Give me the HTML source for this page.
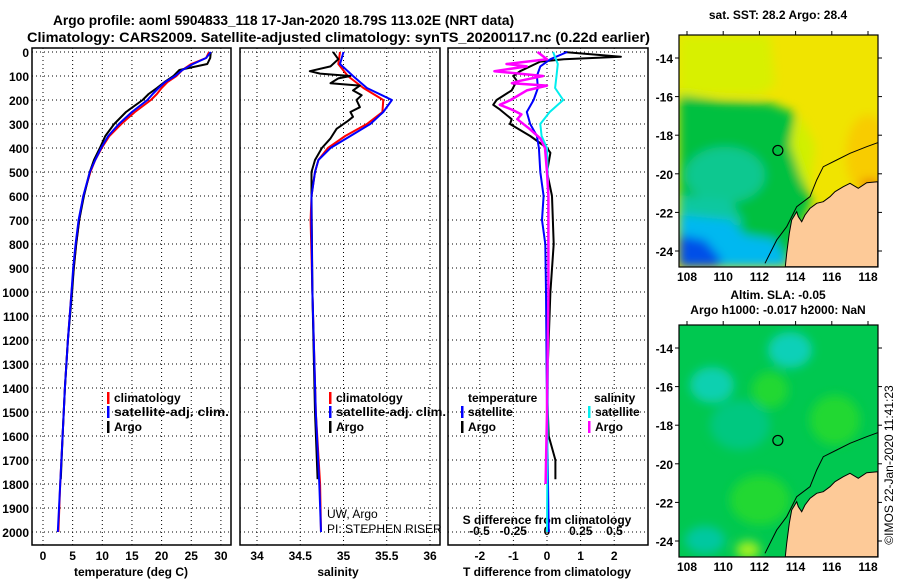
<!DOCTYPE html>
<html><head><meta charset="utf-8"><style>
html,body{margin:0;padding:0;background:#fff;}
svg{display:block;font-family:"Liberation Sans",sans-serif;}
</style></head><body>
<svg id="chart" width="900" height="580" viewBox="0 0 900 580" xmlns="http://www.w3.org/2000/svg">
<defs>
<filter id="blur" x="-10%" y="-10%" width="120%" height="120%"><feGaussianBlur stdDeviation="5"/></filter>
<clipPath id="m1c"><rect x="679" y="35" width="199" height="232"/></clipPath>
<clipPath id="m2c"><rect x="679" y="325" width="199" height="232"/></clipPath>
</defs>
<text x="53" y="25" font-size="14" font-weight="bold" textLength="461" lengthAdjust="spacingAndGlyphs">Argo profile: aoml 5904833_118 17-Jan-2020 18.79S 113.02E (NRT data)</text>
<text x="27" y="42" font-size="14" font-weight="bold" textLength="623" lengthAdjust="spacingAndGlyphs">Climatology: CARS2009. Satellite-adjusted climatology: synTS_20200117.nc (0.22d earlier)</text>
<g id="panels"></g>
<g id="maps"></g>
<text transform="translate(893,465) rotate(-90)" text-anchor="middle" font-size="12">©IMOS 22-Jan-2020 11:41:23</text>
</svg>
<script>
// ---- data ----
const depthClim=[0,25,50,75,100,125,150,175,200,250,300,350,400,450,500,600,700,800,900,1000,1200,1400,1600,1800,2000];
const tempClim=[28,27.5,25,23.5,22.5,21,20,19.2,18.2,15.5,13.2,11.2,9.9,8.8,8,6.8,6.1,5.6,5.2,4.8,4.2,3.7,3.3,2.9,2.6];
const tempSat=[28.3,27.5,25.3,23.5,22.3,20.6,19.5,18.5,17.6,15,12.8,11,9.8,8.8,7.9,6.8,6,5.5,5.1,4.8,4.2,3.7,3.3,2.9,2.5];
const depthArgo=[0,25,50,75,100,125,150,175,200,250,300,350,400,450,500,600,700,800,900,1000,1200,1400,1600,1780];
const tempArgo=[28.3,28.2,27.7,23,22,20.5,19.2,17.8,16.8,14,12,10.5,9.6,8.6,7.9,6.9,6.1,5.6,5.2,4.9,4.2,3.7,3.3,3.0];
const depthS=[0,50,100,150,200,250,300,350,400,450,500,600,700,1000,1500,1800,2000];
const salClim=[34.96,34.94,35.05,35.23,35.46,35.45,35.27,35.02,34.82,34.71,34.67,34.63,34.62,34.64,34.68,34.73,34.74];
const salSat=[35.0,34.96,35.11,35.27,35.56,35.46,35.31,35.08,34.85,34.71,34.67,34.63,34.63,34.64,34.68,34.72,34.74];
const depthSA=[0,30,60,80,90,100,110,130,140,160,180,200,230,250,270,290,320,360,400,450,500,600,1000,1500,1780];
const salArgo=[34.88,34.94,34.85,34.61,34.73,35.08,34.94,34.85,35.19,35.11,35.21,35.15,35.19,35.08,35.11,35.04,34.92,34.85,34.75,34.67,34.63,34.63,34.64,34.67,34.70];
const depthDT=[0,30,60,100,150,200,250,300,350,400,500,600,700,800,1000,1500,2000];
const dTSat=[0.6,0.1,-0.2,-0.3,-0.27,-0.4,-0.6,-0.5,-0.3,-0.24,-0.2,-0.1,-0.15,-0.05,-0.03,0,0.05];
const depthDTA=[0,20,30,40,80,100,120,160,200,220,240,280,300,350,400,420,500,600,800,1000,1400,1600,1700,1780];
const dTArgo=[0.5,2.2,0.5,-0.2,-0.8,-1.0,-0.9,-1.05,-1.5,-1.6,-1.4,-1.05,-1.1,-0.5,0,0.1,0,0.15,0.2,0.1,0,0.05,0.25,0.25];
const depthDS=[0,50,100,150,200,250,300,350,400,500,600,1000,2000];
const dSSat=[0.045,0.08,0.07,0.06,0.12,0.02,-0.05,-0.04,0,0.005,0.01,0.01,0];
const depthDSA=[0,30,50,60,80,100,120,130,140,160,200,220,240,260,280,320,360,400,500,600,1000,1500,1800];
const dSArgo=[-0.07,0,-0.3,-0.15,-0.39,-0.03,-0.2,-0.26,0,-0.15,-0.27,-0.35,-0.26,-0.19,-0.22,-0.13,-0.05,-0.015,0,0.01,0.01,0,-0.01];
const depthTicks=[0,100,200,300,400,500,600,700,800,900,1000,1100,1200,1300,1400,1500,1600,1700,1800,1900,2000];
const tempTicks=[0,5,10,15,20,25,30];
const salTicks=[34,34.5,35,35.5,36];
const dTTicks=[-2,-1,0,1,2];
const dSTicks=[-0.5,-0.25,0,0.25,0.5];
const lonTicks=[108,110,112,114,116,118];
const latTicks=[-14,-16,-18,-20,-22,-24];
const argoLon=113.02, argoLat=-18.79;

// ---- scales ----
const yD=d=>52+d*0.24;
const xT=v=>43+v*5.93;
const xS=v=>257+(v-34)*86.5;
const xDT=v=>547+v*33.6;
const xDS=v=>547+v*135;
const P=[{x0:32,x1:231},{x0:240,x1:440},{x0:448,x1:648}];
const TOP=48,BOT=545;
const NS='http://www.w3.org/2000/svg';
const panels=document.getElementById('panels');
const maps=document.getElementById('maps');
function mk(tag,attrs,parent){const e=document.createElementNS(NS,tag);for(const k in attrs)e.setAttribute(k,attrs[k]);(parent||panels).appendChild(e);return e;}
function txt(s,x,y,parent,extra){const e=mk('text',Object.assign({x:x,y:y,'font-size':12,'font-weight':'bold'},extra||{}),parent);e.textContent=s;return e;}

P.forEach((p,i)=>{
  const g=mk('g',{});
  
  
  depthTicks.forEach(d=>{const l=mk('line',{x1:p.x0,x2:p.x1,y1:yD(d),y2:yD(d),stroke:'#000','stroke-width':1,'stroke-dasharray':'1,3'},g);
    });
  const xs=i==0?tempTicks.map(xT):i==1?salTicks.map(xS):dTTicks.map(xDT);
  xs.forEach(x=>{const l=mk('line',{x1:x,x2:x,y1:TOP,y2:BOT,stroke:'#000','stroke-width':1,'stroke-dasharray':'1,3'},g);
    });
  const r=mk('rect',{x:p.x0,y:TOP,width:p.x1-p.x0,height:BOT-TOP,fill:'none',stroke:'#000','stroke-width':1.5},g);
  
});
depthTicks.forEach(d=>{const t=txt(String(d),29,yD(d)+5,panels,{'text-anchor':'end'});
  });
tempTicks.forEach(v=>{const t=txt(String(v),xT(v),560,panels,{'text-anchor':'middle'});
  });
salTicks.forEach(v=>{const t=txt(String(v),xS(v),560,panels,{'text-anchor':'middle'});
  });
dTTicks.forEach(v=>{const t=txt(String(v),xDT(v),560,panels,{'text-anchor':'middle'});
  });
dSTicks.forEach(v=>{const t=txt(String(v),xDS(v),535,panels,{'text-anchor':'middle'});
  });
let t;
t=txt('temperature (deg C)',131,576,panels,{'text-anchor':'middle'});

t=txt('salinity',338,576,panels,{'text-anchor':'middle'});

t=txt('T difference from climatology',547,576,panels,{'text-anchor':'middle'});

t=txt('S difference from climatology',547,524,panels,{'text-anchor':'middle'});


function line(xs,ds,fx,color,name,w){
  const pts=xs.map((v,i)=>fx(v).toFixed(1)+','+yD(ds[i]).toFixed(1)).join(' ');
  const e=mk('polyline',{points:pts,fill:'none',stroke:color,'stroke-width':w||2,'stroke-linejoin':'round'});
  
}
line(tempClim,depthClim,xT,'#ff0000','temp-climatology-line');
line(tempArgo,depthArgo,xT,'#000000','temp-argo-line');
line(tempSat,depthClim,xT,'#0000ff','temp-satellite-line');
line(salClim,depthS,xS,'#ff0000','salinity-climatology-line');
line(salArgo,depthSA,xS,'#000000','salinity-argo-line');
line(salSat,depthS,xS,'#0000ff','salinity-satellite-line');
line(dTArgo,depthDTA,xDT,'#000000','t-diff-argo-line');
line(dTSat,depthDT,xDT,'#0000ff','t-diff-satellite-line');
line(dSSat,depthDS,xDS,'#00eeee','s-diff-satellite-line');
line(dSArgo,depthDSA,xDS,'#ff00ff','s-diff-argo-line',2.5);

function leg(x,y,color,label,name,len){
  const g=mk('g',{});
  mk('rect',{x:x,y:y-10,width:2.5,height:12,fill:color},g);
  const tt=txt(label,x+7,y,g);
  if(len){tt.setAttribute('textLength',len);tt.setAttribute('lengthAdjust','spacingAndGlyphs');}
}
leg(107,402,'#ff0000','climatology','legend-temp-climatology');
leg(107,416,'#0000ff','satellite-adj. clim.','legend-temp-satellite',115);
leg(107,431,'#000000','Argo','legend-temp-argo');
leg(329,402,'#ff0000','climatology','legend-sal-climatology');
leg(329,416,'#0000ff','satellite-adj. clim.','legend-sal-satellite',110);
leg(329,431,'#000000','Argo','legend-sal-argo');
t=txt('temperature',468,402);
t=txt('salinity',594,402);
leg(461,416,'#0000ff','satellite','legend-dt-satellite');
leg(461,431,'#000000','Argo','legend-dt-argo');
leg(588,416,'#00eeee','satellite','legend-ds-satellite');
leg(588,431,'#ff00ff','Argo','legend-ds-argo');
t=txt('UW, Argo',327,518,panels,{'font-weight':'normal'});
t=txt('PI: STEPHEN RISER',327,533,panels,{'font-weight':'normal'});

// ---- maps ----
const mlon=v=>687+(v-108)*18.1;
function mlat(v,top){return top+23+(-14-v)*19.3;}
const coast=[[683,545],[650,548],[625,565],[600,550],[580,560],[555,575],[540,590],[520,605],[500,610],[480,625],[465,645],[455,665],[445,650],[440,635],[425,660],[418,700],[410,760],[406,800],[683,800]];
const shelf=[[345,790],[380,720],[410,680],[440,620],[480,590],[500,540],[520,500],[560,480],[600,460],[650,440],[683,428]];
function drawMap(top,name,titleLines,fields,base,blurId){
  const g=mk('g',{},maps);
  const cg=mk('g',{'clip-path':'url(#'+(top<100?'m1c':'m2c')+')'},g);
  mk('rect',{x:679,y:top,width:199,height:232,fill:base},cg);
  const bg=mk('g',{filter:'url(#blur)'},cg);
  fields.forEach(f=>{
    if(f.e) mk('ellipse',{cx:f.e[0],cy:top+f.e[1],rx:f.e[2],ry:f.e[3],fill:f.c},bg);
    else mk('polygon',{points:f.p.map(q=>q[0]+','+(top+q[1])).join(' '),fill:f.c},bg);
  });
  const dy=top-35;
  const land=mk('polygon',{points:coast.map(q=>(650+q[0]/3).toFixed(1)+','+(q[1]/3+dy).toFixed(1)).join(' '),fill:'#fdca98',stroke:'#000','stroke-width':1},cg);
  
  const sh=mk('polyline',{points:shelf.map(q=>(650+q[0]/3).toFixed(1)+','+(q[1]/3+dy).toFixed(1)).join(' '),fill:'none',stroke:'#000','stroke-width':1},cg);
  
  const c=mk('circle',{cx:mlon(argoLon),cy:mlat(argoLat,top),r:5,fill:'none',stroke:'#000','stroke-width':1.2},g);
  
  mk('rect',{x:679,y:top,width:199,height:232,fill:'none',stroke:'#000','stroke-width':1.2},g);
  lonTicks.forEach(v=>{mk('line',{x1:mlon(v),x2:mlon(v),y1:top,y2:top-4,stroke:'#000'},g);
    const tt=txt(String(v),mlon(v),top+246,g,{'text-anchor':'middle'});});
  latTicks.forEach(v=>{const y=mlat(v,top);mk('line',{x1:675,x2:679,y1:y,y2:y,stroke:'#000'},g);mk('line',{x1:878,x2:882,y1:y,y2:y,stroke:'#000'},g);
    const tt=txt(String(v),673,y+5,g,{'text-anchor':'end'});});
  titleLines.forEach((s,i)=>{const tt=txt(s,778,top-(titleLines.length-i)*15+(titleLines.length==1?-1:4),g,{'text-anchor':'middle'});
    });
}
drawMap(35,'sst-map',['sat. SST: 28.2 Argo: 28.4'],[
  {c:'#d8f000',p:[[679,0],[770,0],[775,50],[760,60],[679,60]]},
  {c:'#f8cc00',e:[868,120,22,40]},
  {c:'#e88000',e:[870,150,10,6]},
  {c:'#d0f000',p:[[800,80],[815,110],[810,150],[790,180],[780,150],[790,110]]},
  {c:'#00c040',p:[[679,60],[720,66],[770,68],[795,78],[790,110],[800,140],[812,165],[800,195],[785,230],[679,232]]},
  {c:'#10c890',e:[725,140,40,28]},
  {c:'#10c8a0',p:[[679,160],[730,165],[745,190],[679,195]]},
  {c:'#00b8f0',p:[[679,180],[730,185],[745,200],[775,205],[790,232],[679,232]]},
  {c:'#0050e8',p:[[679,200],[705,205],[722,225],[718,232],[679,232]]}
],'#f0e400');
drawMap(325,'sla-map',['Altim. SLA: -0.05','Argo h1000: -0.017 h2000: NaN'],[
  {c:'#10d0b8',e:[790,25,22,18]},
  {c:'#10d0b0',e:[712,60,22,18]},
  {c:'#00c880',e:[740,100,30,25]},
  {c:'#00c8a0',e:[705,215,20,14]},
  {c:'#20d830',e:[770,65,18,18]},
  {c:'#20d830',e:[835,95,25,25]},
  {c:'#20d830',e:[760,175,30,25]},
  {c:'#a0f020',e:[748,225,12,9]},
  {c:'#90f020',p:[[800,232],[815,200],[840,180],[878,170],[878,200],[840,195],[815,225]]}
],'#00c850');
</script>
</body></html>
